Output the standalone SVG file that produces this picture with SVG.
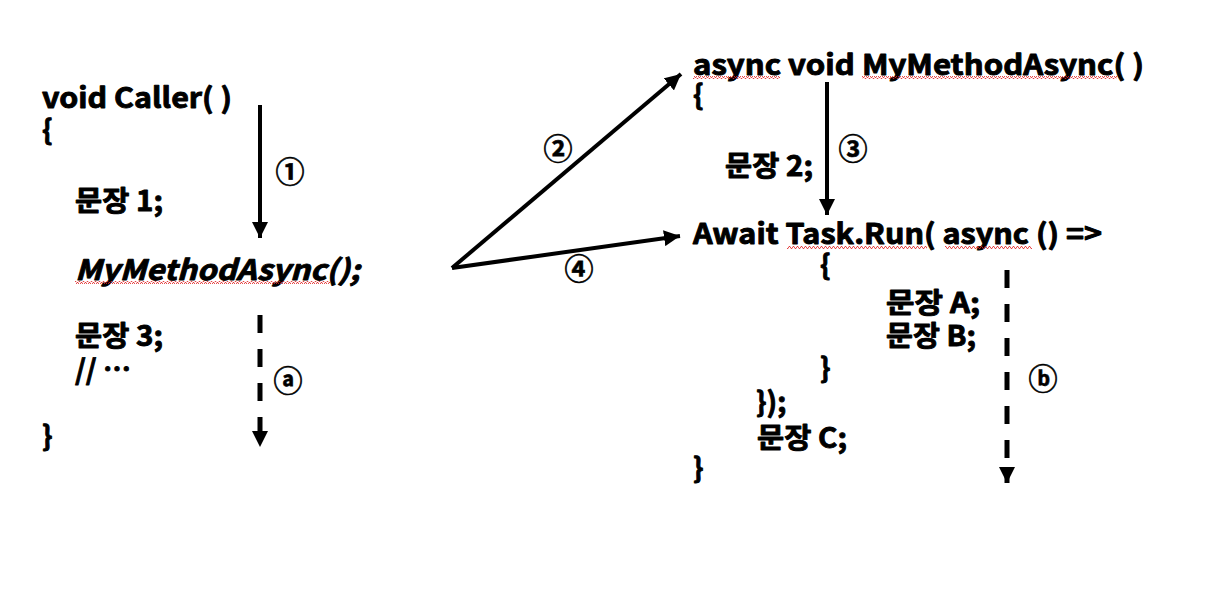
<svg xmlns="http://www.w3.org/2000/svg" width="1216" height="606" viewBox="0 0 1216 606">
<style>
  text { font-family: "Noto Sans CJK KR", "Noto Sans", "DejaVu Sans", sans-serif; font-weight: 700; fill: #000; }
  .code { font-size: 28px; stroke: #000; stroke-width: 0.9; stroke-linejoin: round; }
  .it { font-style: italic; }
  .num { font-size: 29px; text-anchor: middle; stroke: #000; stroke-width: 0.6; }
  .conn { stroke: #000; stroke-width: 4; fill: none; }
  .dash { stroke: #000; stroke-width: 5; fill: none; stroke-dasharray: 18 16; }
  .squig { fill: url(#wave); }
</style>
<defs>
  <marker id="ah" viewBox="0 0 16 16" refX="16" refY="8" markerWidth="16" markerHeight="16" markerUnits="userSpaceOnUse" orient="auto">
    <path d="M0,0 L16,8 L0,16 Z" fill="#000"/>
  </marker>
  <pattern id="wave" width="4" height="3" patternUnits="userSpaceOnUse">
    <polyline points="0,2.5 1,0.5 2,0.5 3,2.5 4,2.5" fill="none" stroke="#e02020" stroke-width="0.8"/>
  </pattern>
</defs>

<g id="caller">
  <text class="code" x="42" y="108" textLength="190" lengthAdjust="spacingAndGlyphs">void Caller( )</text>
  <text class="code" x="42" y="140">{</text>
  <text class="code" x="75" y="211" textLength="88" lengthAdjust="spacingAndGlyphs">문장 1;</text>
  <text class="code it" x="75" y="280" textLength="285" lengthAdjust="spacingAndGlyphs">MyMethodAsync();</text>
  <rect class="squig" x="75" y="281" width="255" height="3"/>
  <text class="code" x="75" y="346" textLength="88" lengthAdjust="spacingAndGlyphs">문장 3;</text>
  <text class="code" x="75" y="380">// …</text>
  <text class="code" x="42" y="446">}</text>
</g>

<g id="mymethod">
  <text class="code" x="693" y="75" textLength="451" lengthAdjust="spacingAndGlyphs">async void MyMethodAsync( )</text>
  <rect class="squig" x="693" y="76" width="87" height="3"/>
  <rect class="squig" x="862" y="76" width="255" height="3"/>
  <text class="code" x="693" y="105">{</text>
  <text class="code" x="725" y="176" textLength="88" lengthAdjust="spacingAndGlyphs">문장 2;</text>
  <text class="code" x="693" y="244" textLength="409" lengthAdjust="spacingAndGlyphs">Await Task.Run( async () =&gt;</text>
  <rect class="squig" x="787" y="246" width="140" height="3"/>
  <rect class="squig" x="945" y="246" width="87" height="3"/>
  <text class="code" x="820" y="275">{</text>
  <text class="code" x="886" y="313" textLength="94" lengthAdjust="spacingAndGlyphs">문장 A;</text>
  <text class="code" x="886" y="346" textLength="90" lengthAdjust="spacingAndGlyphs">문장 B;</text>
  <text class="code" x="820" y="378">}</text>
  <text class="code" x="756" y="412">});</text>
  <text class="code" x="757" y="448" textLength="90" lengthAdjust="spacingAndGlyphs">문장 C;</text>
  <text class="code" x="693" y="478">}</text>
</g>

<g id="connectors">
  <line class="conn" x1="260" y1="105" x2="260" y2="238" marker-end="url(#ah)"/>
  <line class="dash" x1="260" y1="315" x2="260" y2="447" marker-end="url(#ah)"/>
  <line class="conn" x1="452" y1="268" x2="681" y2="74" marker-end="url(#ah)"/>
  <line class="conn" x1="452" y1="268" x2="680" y2="236" marker-end="url(#ah)"/>
  <line class="conn" x1="827" y1="82" x2="827" y2="215" marker-end="url(#ah)"/>
  <line class="dash" x1="1007" y1="270" x2="1007" y2="483" marker-end="url(#ah)"/>
</g>

<g id="labels">
  <text class="num" x="290" y="183">①</text>
  <text class="num" x="288" y="392">ⓐ</text>
  <text class="num" x="558" y="160">②</text>
  <text class="num" x="579" y="280">④</text>
  <text class="num" x="853" y="160">③</text>
  <text class="num" x="1043" y="390">ⓑ</text>
</g>
</svg>
